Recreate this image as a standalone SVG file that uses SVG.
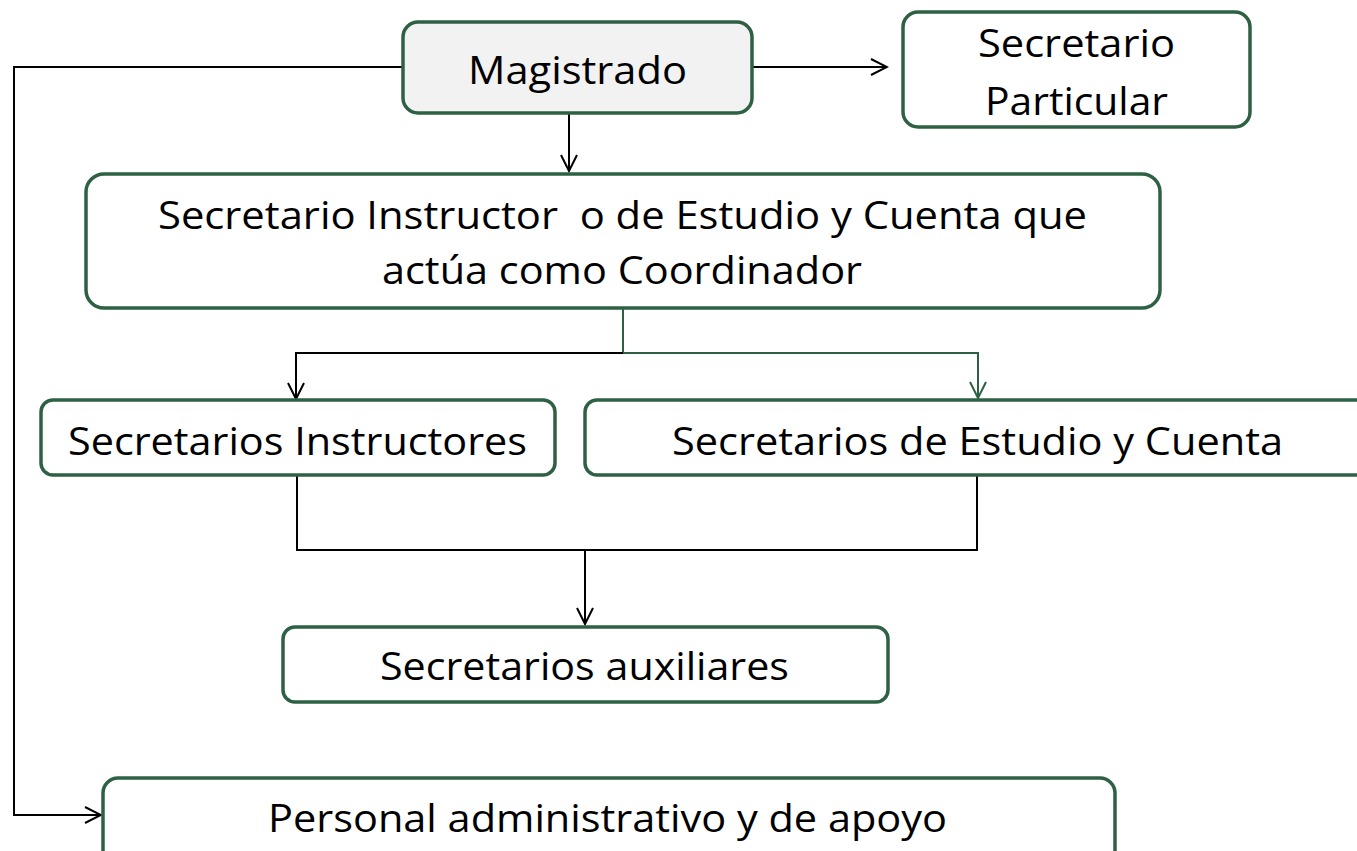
<svg xmlns="http://www.w3.org/2000/svg" width="1357" height="851" viewBox="0 0 1357 851">
<defs>
<style>
.box{fill:#ffffff;stroke:#2e6144;stroke-width:3.5}
.t{font-family:"Open Sans","Liberation Sans",sans-serif;font-size:39px;fill:#000;white-space:pre}
.c{fill:none;stroke:#000;stroke-width:2}
.g{fill:none;stroke:#2e6144;stroke-width:2}
</style>
<marker id="ab" markerWidth="20" markerHeight="20" refX="18" refY="10" orient="auto" markerUnits="userSpaceOnUse">
<path d="M2,2 L18,10 L2,18" fill="none" stroke="#000" stroke-width="2"/>
</marker>
<marker id="ag" markerWidth="20" markerHeight="20" refX="18" refY="10" orient="auto" markerUnits="userSpaceOnUse">
<path d="M2,2 L18,10 L2,18" fill="none" stroke="#2e6144" stroke-width="2"/>
</marker>
</defs>
<rect width="1357" height="851" fill="#ffffff"/>
<g id="connectors">
<path class="c" d="M403,67 H14 V815 H101" marker-end="url(#ab)"/>
<path class="c" d="M752,67 H887" marker-end="url(#ab)"/>
<path class="c" d="M569,113 V171" marker-end="url(#ab)"/>
<path class="g" d="M623,308 V353"/>
<path class="c" d="M623,353 H296 V399" marker-end="url(#ab)"/>
<path class="g" d="M623,353 H978 V398" marker-end="url(#ag)"/>
<path class="c" d="M297,475 V550 H977 V475"/>
<path class="c" d="M585,550 V624" marker-end="url(#ab)"/>
</g>
<g id="magistrado">
<rect class="box" x="403" y="22" width="349" height="91" rx="15" style="fill:#f2f2f2"/>
<text class="t" x="577.5" y="84" text-anchor="middle" textLength="219" lengthAdjust="spacingAndGlyphs">Magistrado</text>
</g>
<g id="secretario-particular">
<rect class="box" x="903" y="12" width="347" height="115" rx="15"/>
<text class="t" x="1076.5" y="57" text-anchor="middle" textLength="197" lengthAdjust="spacingAndGlyphs">Secretario</text>
<text class="t" x="1076.5" y="115" text-anchor="middle" textLength="183" lengthAdjust="spacingAndGlyphs">Particular</text>
</g>
<g id="coordinador">
<rect class="box" x="86" y="174" width="1074" height="134" rx="18"/>
<text class="t" x="622.5" y="229" text-anchor="middle" textLength="929" lengthAdjust="spacingAndGlyphs" xml:space="preserve">Secretario Instructor  o de Estudio y Cuenta que</text>
<text class="t" x="622" y="284" text-anchor="middle" textLength="480" lengthAdjust="spacingAndGlyphs">actúa como Coordinador</text>
</g>
<g id="secretarios-instructores">
<rect class="box" x="41" y="400" width="514" height="75" rx="12"/>
<text class="t" x="297.5" y="455" text-anchor="middle" textLength="459" lengthAdjust="spacingAndGlyphs">Secretarios Instructores</text>
</g>
<g id="secretarios-estudio">
<rect class="box" x="585" y="400" width="800" height="75" rx="12"/>
<text class="t" x="977.5" y="455" text-anchor="middle" textLength="611" lengthAdjust="spacingAndGlyphs">Secretarios de Estudio y Cuenta</text>
</g>
<g id="secretarios-auxiliares">
<rect class="box" x="283" y="627" width="605" height="75" rx="12"/>
<text class="t" x="584.5" y="680" text-anchor="middle" textLength="409" lengthAdjust="spacingAndGlyphs">Secretarios auxiliares</text>
</g>
<g id="personal">
<rect class="box" x="103" y="778" width="1012" height="100" rx="15"/>
<text class="t" x="607.5" y="832" text-anchor="middle" textLength="679" lengthAdjust="spacingAndGlyphs">Personal administrativo y de apoyo</text>
</g>
</svg>
